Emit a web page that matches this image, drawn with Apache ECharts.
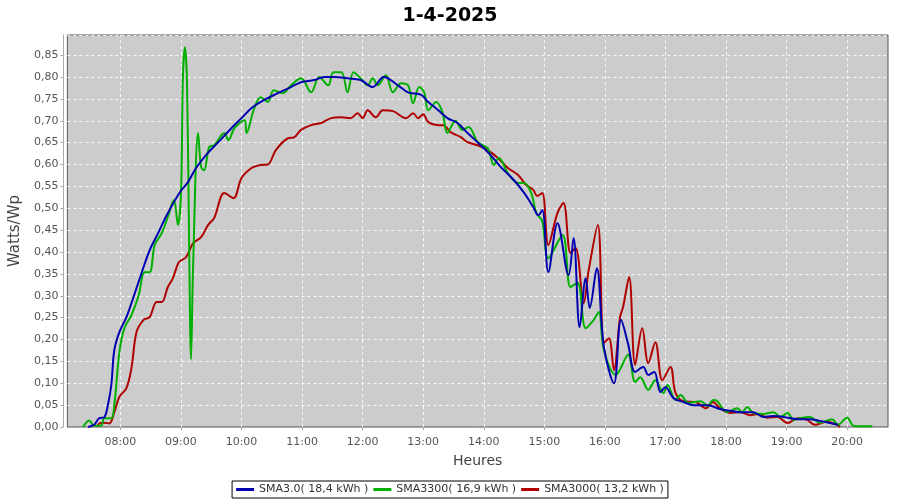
<!DOCTYPE html>
<html>
<head>
<meta charset="utf-8">
<script src="https://cdn.jsdelivr.net/npm/echarts@6/dist/echarts.min.js"></script>
<style>html,body{margin:0;padding:0;background:#fff}#c{width:900px;height:500px}</style>
</head>
<body>
<div id="c"></div>
<script>
const chartTitle = '1-4-2025';
const seriesNames = ['SMA3.0( 18,4 kWh )', 'SMA3300( 16,9 kWh )', 'SMA3000( 13,2 kWh )'];

const blueTimes = ['07:28','07:34','07:39','07:44','07:48','07:51','07:54','07:59','08:06','08:13','08:21','08:29','08:38','08:45','08:53','09:00','09:07','09:15','09:25','09:37','09:50','10:00','10:10','10:22','10:36','10:49','10:59','11:12','11:22','11:32','11:45','11:58','12:10','12:21','12:35','12:45','12:58','13:05','13:15','13:24','13:34','13:44','13:57','14:07','14:17','14:30','14:40','14:49','14:54','14:58','15:04','15:13','15:24','15:29','15:35','15:41','15:45','15:52','15:59','16:09','16:16','16:23','16:30','16:38','16:43','16:49','16:55','17:00','17:08','17:18','17:28','17:42','17:54','18:04','18:14','18:27','18:37','18:47','18:57','19:11','19:23','19:33','19:43','19:51'];
const blueValues = [0.0,0.005,0.02,0.022,0.055,0.096,0.176,0.217,0.251,0.297,0.352,0.404,0.446,0.48,0.514,0.54,0.56,0.592,0.622,0.651,0.683,0.706,0.729,0.747,0.763,0.777,0.788,0.793,0.80,0.80,0.797,0.793,0.777,0.80,0.781,0.765,0.759,0.743,0.724,0.706,0.695,0.672,0.644,0.621,0.594,0.564,0.535,0.503,0.484,0.496,0.354,0.466,0.347,0.432,0.228,0.34,0.272,0.363,0.183,0.10,0.245,0.19,0.126,0.137,0.119,0.126,0.08,0.091,0.066,0.057,0.05,0.05,0.041,0.037,0.034,0.034,0.023,0.025,0.023,0.018,0.018,0.014,0.009,0.005];

const greenTimes = ['07:23','07:29','07:34','07:41','07:44','07:51','07:54','07:59','08:04','08:11','08:18','08:24','08:29','08:34','08:41','08:47','08:53','08:57','09:00','09:02','09:04','09:06','09:08','09:10','09:12','09:17','09:20','09:23','09:28','09:33','09:43','09:47','09:53','10:03','10:05','10:12','10:19','10:26','10:32','10:41','10:49','10:59','11:09','11:17','11:26','11:31','11:39','11:45','11:51','11:58','12:05','12:10','12:15','12:23','12:30','12:38','12:45','12:50','12:56','13:01','13:05','13:13','13:19','13:24','13:32','13:39','13:45','13:54','14:04','14:10','14:15','14:24','14:34','14:40','14:47','14:52','14:58','15:04','15:18','15:26','15:33','15:41','15:49','15:54','15:59','16:11','16:23','16:30','16:35','16:43','16:50','16:58','17:02','17:10','17:15','17:23','17:35','17:42','17:47','17:51','18:01','18:11','18:16','18:21','18:27','18:37','18:47','18:54','19:01','19:07','19:13','19:23','19:33','19:45','19:51','20:00','20:06','20:10','20:25'];
const greenValues = [0.0,0.015,0.003,0.003,0.02,0.02,0.05,0.171,0.226,0.256,0.30,0.354,0.354,0.416,0.443,0.48,0.519,0.462,0.53,0.804,0.868,0.788,0.439,0.155,0.363,0.672,0.594,0.587,0.64,0.644,0.672,0.656,0.683,0.701,0.672,0.724,0.754,0.743,0.77,0.763,0.781,0.797,0.765,0.80,0.781,0.811,0.811,0.765,0.811,0.797,0.781,0.797,0.781,0.804,0.765,0.786,0.781,0.740,0.777,0.765,0.724,0.743,0.72,0.672,0.70,0.679,0.686,0.651,0.637,0.599,0.615,0.580,0.558,0.558,0.535,0.49,0.47,0.386,0.439,0.32,0.33,0.226,0.245,0.263,0.176,0.119,0.165,0.103,0.114,0.085,0.107,0.078,0.096,0.062,0.073,0.055,0.059,0.048,0.062,0.06,0.034,0.043,0.034,0.046,0.032,0.03,0.034,0.023,0.032,0.016,0.02,0.023,0.01,0.018,0.005,0.021,0.003,0.002,0.002];

const redTimes = ['07:37','07:39','07:44','07:49','07:54','07:59','08:06','08:11','08:16','08:23','08:29','08:36','08:41','08:47','08:52','08:58','09:05','09:12','09:20','09:27','09:33','09:43','09:52','10:00','10:10','10:19','10:26','10:34','10:46','10:52','10:59','11:09','11:19','11:29','11:39','11:48','11:55','12:00','12:05','12:13','12:20','12:30','12:43','12:50','12:55','13:00','13:05','13:15','13:20','13:27','13:37','13:44','13:54','14:04','14:14','14:24','14:34','14:42','14:49','14:53','14:58','15:04','15:13','15:19','15:26','15:31','15:39','15:44','15:53','15:59','16:04','16:09','16:15','16:18','16:24','16:30','16:37','16:43','16:50','16:57','17:05','17:10','17:18','17:30','17:40','17:47','17:54','18:04','18:14','18:24','18:32','18:41','18:51','19:01','19:11','19:20','19:28','19:40','19:50','19:53'];
const redValues = [0.0,0.008,0.01,0.008,0.034,0.069,0.089,0.135,0.217,0.245,0.251,0.286,0.286,0.32,0.34,0.377,0.388,0.42,0.434,0.462,0.478,0.535,0.523,0.569,0.592,0.599,0.60,0.633,0.66,0.662,0.679,0.69,0.695,0.706,0.708,0.706,0.717,0.706,0.724,0.708,0.724,0.722,0.706,0.717,0.706,0.715,0.697,0.69,0.69,0.674,0.663,0.651,0.644,0.633,0.615,0.592,0.576,0.553,0.542,0.528,0.535,0.416,0.489,0.512,0.398,0.409,0.283,0.359,0.462,0.192,0.203,0.13,0.251,0.274,0.343,0.142,0.226,0.146,0.194,0.107,0.137,0.078,0.059,0.057,0.043,0.057,0.043,0.032,0.034,0.027,0.03,0.021,0.023,0.009,0.02,0.017,0.005,0.012,0.005,0.0];

const hourTicks = [8, 9, 10, 11, 12, 13, 14, 15, 16, 17, 18, 19, 20];
const yTickStep = 0.05;
const yMax = 0.896;
const xStart = 7.125;
const xEnd = 20.675;

function toHours(s) {
  const p = s.split(':').map(Number);
  return p[0] + p[1] / 60;
}
function pairs(times, values) {
  return times.map((t, i) => [toHours(t), values[i]]);
}
function pad(n) { return (n < 10 ? '0' : '') + n; }
function fmtHour(v) {
  const h = Math.floor(v + 1e-9);
  const m = Math.round((v - h) * 60);
  return pad(h) + ':' + pad(m);
}

const chart = echarts.init(document.getElementById('c'), null, {renderer: 'canvas'});
const FONT = '"DejaVu Sans", sans-serif';
const gridStyle = {color: '#ffffff', type: [3, 3], width: 1, opacity: 0.85};
chart.setOption({
  animation: false,
  backgroundColor: '#ffffff',
  title: {
    text: chartTitle, left: 'center', top: 2,
    textStyle: {fontFamily: FONT, fontSize: 19, fontWeight: 'bold', color: '#000'}
  },
  legend: {
    bottom: 2, left: 'center',
    data: seriesNames,
    borderColor: '#000', borderWidth: 1, padding: [3, 4, 3, 4],
    itemGap: 5, itemWidth: 18, itemHeight: 3, icon: 'rect',
    textStyle: {fontFamily: FONT, fontSize: 11, color: '#333'}
  },
  grid: {
    left: 66, right: 12, top: 35, bottom: 73,
    show: true, backgroundColor: '#cccccc', borderColor: '#555555', borderWidth: 1
  },
  xAxis: {
    type: 'value',
    min: xStart, max: xEnd,
    offset: 4,
    name: 'Heures', nameLocation: 'middle', nameGap: 23,
    nameTextStyle: {fontFamily: FONT, fontSize: 14, color: '#444'},
    axisLine: {show: true, lineStyle: {color: '#aaaaaa', width: 1}},
    axisTick: {show: true, length: 3, lineStyle: {color: '#aaaaaa'}, customValues: hourTicks},
    axisLabel: {
      fontFamily: FONT, fontSize: 11, color: '#555', margin: 6,
      customValues: hourTicks,
      formatter: fmtHour
    },
    splitLine: {show: false}
  },
  yAxis: {
    type: 'value', min: 0, max: yMax, interval: yTickStep,
    offset: 4,
    name: 'Watts/Wp', nameLocation: 'middle', nameGap: 37,
    nameTextStyle: {fontFamily: FONT, fontSize: 15, color: '#444'},
    axisLine: {show: true, lineStyle: {color: '#aaaaaa', width: 1}},
    axisTick: {show: true, length: 3, lineStyle: {color: '#aaaaaa'}},
    axisLabel: {
      fontFamily: FONT, fontSize: 11, color: '#555', margin: 5,
      showMaxLabel: false,
      formatter: function (v) {
        if (Math.abs(v / yTickStep - Math.round(v / yTickStep)) > 1e-6) return '';
        return v.toFixed(2).replace('.', ',');
      }
    },
    splitLine: {show: true, lineStyle: gridStyle}
  },
  series: [
    {name: seriesNames[2], type: 'line', data: pairs(redTimes, redValues), smooth: 0.35, showSymbol: false,
     lineStyle: {color: '#b00000', width: 2}, itemStyle: {color: '#b00000'},
     markLine: {silent: true, symbol: 'none', label: {show: false}, lineStyle: gridStyle, z: 1,
       emphasis: {disabled: true},
       data: hourTicks.map(h => ({xAxis: h}))}},
    {name: seriesNames[1], type: 'line', data: pairs(greenTimes, greenValues), smooth: 0.35, showSymbol: false,
     lineStyle: {color: '#00b000', width: 2}, itemStyle: {color: '#00b000'}},
    {name: seriesNames[0], type: 'line', data: pairs(blueTimes, blueValues), smooth: 0.35, showSymbol: false,
     lineStyle: {color: '#0000b0', width: 2}, itemStyle: {color: '#0000b0'}}
  ]
});
</script>
</body>
</html>
